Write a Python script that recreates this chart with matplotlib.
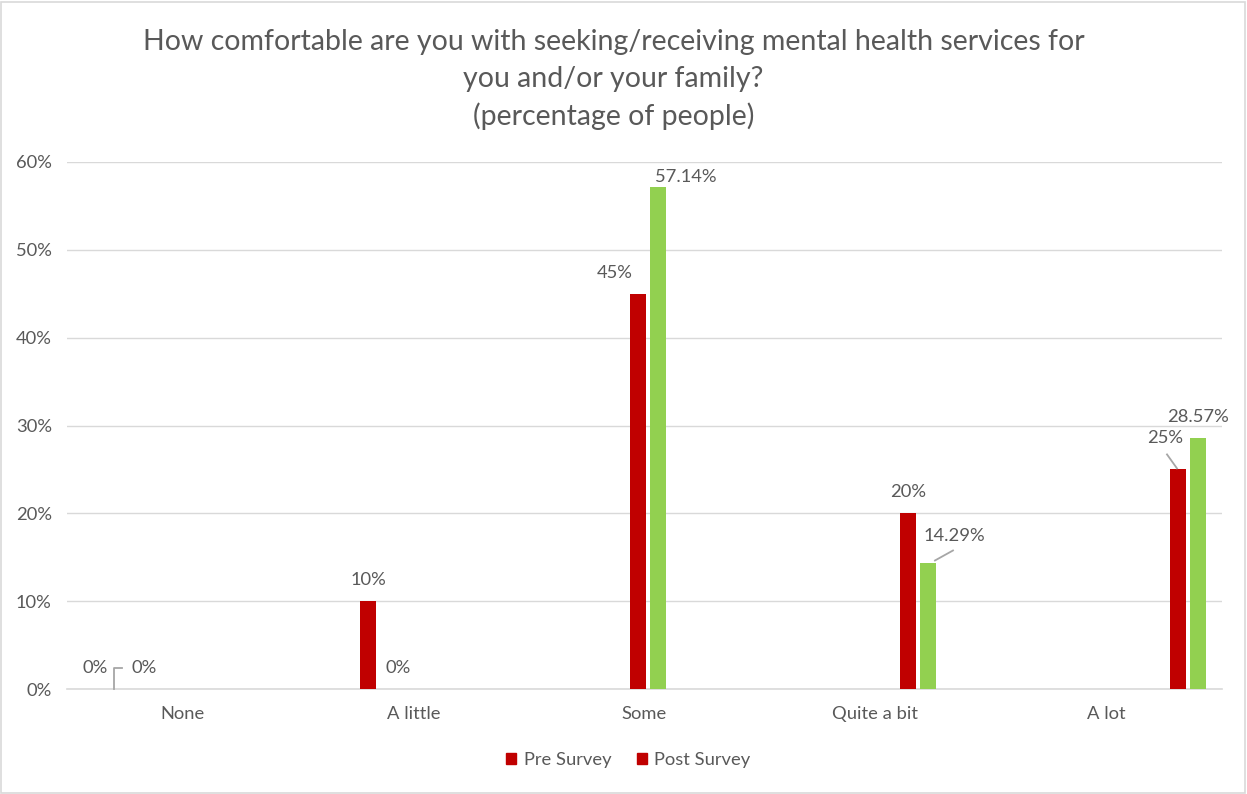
import matplotlib
matplotlib.use("Agg")
import matplotlib.pyplot as plt
from matplotlib.patches import Patch, Rectangle
from matplotlib.transforms import offset_copy

plt.rcParams["font.family"] = ["Lato", "DejaVu Sans"]

categories = ["None", "A little", "Some", "Quite a bit", "A lot"]
pre_survey = [0, 10, 45, 20, 25]
post_survey = [0, 0, 57.14, 14.29, 28.57]
pre_labels = ["0%", "10%", "45%", "20%", "25%"]
post_labels = ["0%", "0%", "57.14%", "14.29%", "28.57%"]
y_ticks = [0, 10, 20, 30, 40, 50, 60]

RED = "#C00000"
GREEN = "#92D050"
GREY = "#595959"
FS = 13.2

fig = plt.figure(figsize=(12.47, 7.94), dpi=100)
ax = fig.add_axes([67 / 1247, 1 - 689 / 794, (1222 - 67) / 1247, (689 - 162) / 794])

w, off = 0.059, 0.037
xs = list(range(len(categories)))
ax.bar([x - off for x in xs], pre_survey, width=w, color=RED, zorder=3)
ax.bar([x + off for x in xs], post_survey, width=w, color=GREEN, zorder=3)

x0, x1 = -0.152, 4.126
ax.set_xlim(x0, x1)
ax.set_ylim(0, 60)
step = (x1 - x0) / len(categories)
ax.set_xticks([x0 + (i + 0.5) * step for i in range(len(categories))])
ax.set_xticklabels(categories)
ax.set_yticks(y_ticks)
ax.set_yticklabels([f"{t}%" for t in y_ticks])
ax.tick_params(length=0, colors=GREY, labelsize=FS)
ax.tick_params(axis="x", pad=12)
ax.tick_params(axis="y", pad=11)
ax.grid(axis="y", color="#D9D9D9", lw=1, zorder=0)
for s in ["top", "right", "left"]:
    ax.spines[s].set_visible(False)
ax.spines["bottom"].set_color("#D9D9D9")
ax.spines["bottom"].set_linewidth(1.2)

# label offsets (pixels) from the top centre of each bar
pre_off = [(-3, 21), (0, 21), (-23, 21), (0, 21), (-13, 31)]
post_off = [(26, 21), (10, 21), (28, 10), (26, 27), (0, 21)]

def put(x, v, txt, d):
    tr = offset_copy(ax.transData, fig=fig, x=d[0], y=d[1], units="dots")
    ax.text(x, v, txt, transform=tr, ha="center", va="center", fontsize=FS, color=GREY)

def leader(x, v, pts):
    disp = ax.transData.transform((x, v))
    inv = ax.transData.inverted()
    pts_d = [inv.transform((disp[0] + px, disp[1] + py)) for px, py in pts]
    ax.plot([p[0] for p in pts_d], [p[1] for p in pts_d], color="#A6A6A6", lw=1.3,
            zorder=4, clip_on=False)

for i, x in enumerate(xs):
    put(x - off, pre_survey[i], pre_labels[i], pre_off[i])
    put(x + off, post_survey[i], post_labels[i], post_off[i])

# leader lines for labels pushed away from their bars
leader(xs[0] + off, post_survey[0], [(-4, 0), (-4, 21), (4, 21)])
leader(xs[3] + off, post_survey[3], [(7, 3), (25, 13)])
leader(xs[4] - off, pre_survey[4], [(-1, 1), (-11, 15)])

title_lines = ["How comfortable are you with seeking/receiving mental health services for",
               "you and/or your family?", "(percentage of people)"]
for k, line in enumerate(title_lines):
    fig.text(0.492, 1 - (42 + 37 * k) / 794, line, ha="center", va="center", fontsize=20.5, color=GREY)

handles = [Patch(color=RED), Patch(color=RED)]
fig.legend(handles, ["Pre Survey", "Post Survey"], loc="center", bbox_to_anchor=(0.504, 1 - 760 / 794),
           ncol=2, frameon=False, fontsize=FS, labelcolor=GREY, handlelength=0.55, handleheight=0.55,
           handletextpad=0.4, columnspacing=1.4)

fig.patches.append(Rectangle((0.001, 0.001), 0.997, 0.997, transform=fig.transFigure,
                             fill=False, ec="#D9D9D9", lw=1.2))

fig.savefig("out.png", dpi=100, facecolor="white")
